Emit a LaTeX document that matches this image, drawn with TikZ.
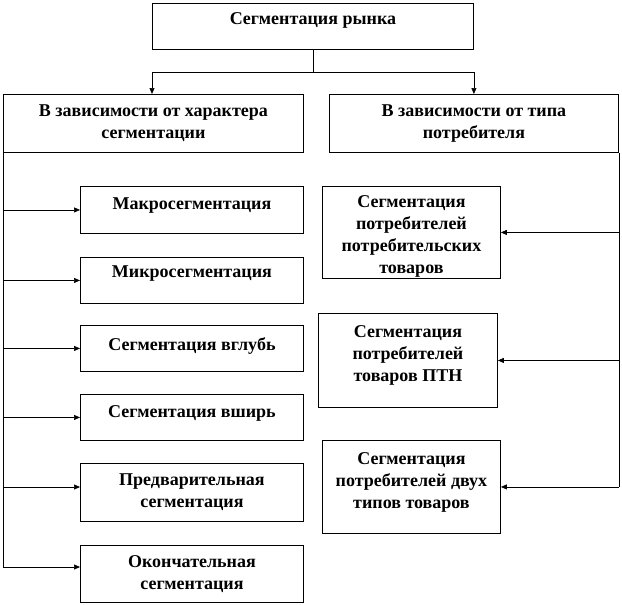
\documentclass[tikz,border=0pt]{standalone}
\usepackage{fontspec}
\setmainfont{Liberation Serif}[BoldFont={Liberation Serif Bold}]
\usetikzlibrary{arrows.meta,calc}
\newcommand\bxt[4]{\parbox[c][#2][t]{#1}{\fontsize{18}{22}\selectfont\bfseries\centering\vspace*{#3}#4\par}}
\tikzset{
  box/.style={draw=black, line width=0.9pt, inner sep=0pt, anchor=north west, fill=white},
  conn/.style={draw=black, line width=0.7pt},
  arr/.style={conn, -{Triangle[length=6pt,width=5pt]}}
}
\begin{document}
\begin{tikzpicture}[x=1pt,y=-1pt]
\useasboundingbox (0,0) rectangle (622,605);
% boxes
\node[box] (top) at (152,3) {\bxt{321pt}{46pt}{9.5pt}{Сегментация рынка}};
\node[box] (hl) at (3,94) {\bxt{300pt}{58pt}{10pt}{В зависимости от характера\\сегментации}};
\node[box] (hr) at (329,94) {\bxt{289pt}{58pt}{10pt}{В зависимости от типа\\потребителя}};
\node[box] (macro) at (80,186) {\bxt{223pt}{47pt}{11pt}{Макросегментация}};
\node[box] (micro) at (80,257) {\bxt{223pt}{46pt}{8pt}{Микросегментация}};
\node[box] (vglub) at (80,325) {\bxt{223pt}{46pt}{12pt}{Сегментация вглубь}};
\node[box] (vshir) at (80,394) {\bxt{223pt}{46pt}{11pt}{Сегментация вширь}};
\node[box] (pred) at (80,463) {\bxt{223pt}{58pt}{10pt}{Предварительная\\сегментация}};
\node[box] (okon) at (80,545) {\bxt{223pt}{57pt}{10pt}{Окончательная\\сегментация}};
\node[box] (ra) at (322,186) {\bxt{178pt}{92pt}{9pt}{Сегментация\\потребителей\\потребительских\\товаров}};
\node[box] (rb) at (318,313) {\bxt{179pt}{94pt}{12pt}{Сегментация\\потребителей\\товаров ПТН}};
\node[box] (rc) at (322,440) {\bxt{178pt}{93pt}{12pt}{Сегментация\\потребителей двух\\типов товаров}};
% top connectors
\draw[conn] (top.south) -- ++(0,22.5) coordinate (j);
\draw[arr] (j) -| (top.south west |- hl.north);
\draw[arr] (j) -| (top.south east |- hr.north);
% left trunk
\coordinate (pa) at ($(pred.north west)+(0,24)$);
\coordinate (oa) at ($(okon.north west)+(0,22)$);
\coordinate (lend) at (hl.south west |- oa);
\draw[conn] (hl.south west) -- (lend);
\draw[arr] (hl.south west |- macro.west) -- (macro.west);
\draw[arr] (hl.south west |- micro.west) -- (micro.west);
\draw[arr] (hl.south west |- vglub.west) -- (vglub.west);
\draw[arr] (hl.south west |- vshir.west) -- (vshir.west);
\draw[arr] (hl.south west |- pa) -- (pa);
\draw[arr] (lend) -- (oa);
% right trunk
\coordinate (rend) at (hr.south east |- rc.east);
\draw[conn] (hr.south east) -- (rend);
\draw[arr] (hr.south east |- ra.east) -- (ra.east);
\draw[arr] (hr.south east |- rb.east) -- (rb.east);
\draw[arr] (rend) -- (rc.east);
\end{tikzpicture}
\end{document}
